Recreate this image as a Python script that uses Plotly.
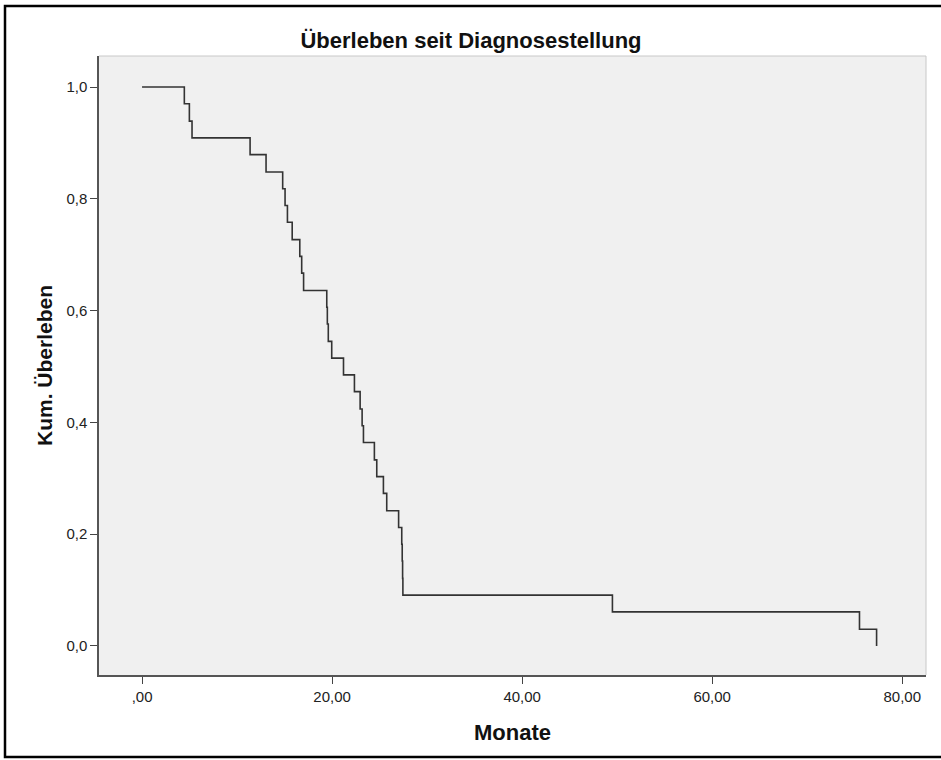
import plotly.graph_objects as go

# Kaplan-Meier survival: event times (months) and cumulative survival after each step
times = [0.0, 4.45, 4.98, 5.26, 11.37, 13.05, 14.8, 15.05, 15.3, 15.8, 16.6, 16.8, 17.0,
         19.44, 19.5, 19.6, 19.96, 21.2, 22.35, 22.95, 23.16, 23.3, 24.45, 24.7, 25.4,
         25.75, 27.0, 27.33, 27.38, 27.42, 27.45, 49.5, 75.5, 77.3]
survival = [1.000, 0.970, 0.939, 0.909, 0.879, 0.848, 0.818, 0.788, 0.758, 0.727, 0.697,
            0.667, 0.636, 0.606, 0.576, 0.545, 0.515, 0.485, 0.455, 0.424, 0.394, 0.364,
            0.333, 0.303, 0.273, 0.242, 0.212, 0.182, 0.152, 0.121, 0.091, 0.061, 0.030,
            0.000]

x_tickvals = [0, 20, 40, 60, 80]
x_ticktext = [",00", "20,00", "40,00", "60,00", "80,00"]
y_tickvals = [0.0, 0.2, 0.4, 0.6, 0.8, 1.0]
y_ticktext = ["0,0", "0,2", "0,4", "0,6", "0,8", "1,0"]

FONT = "Liberation Sans, Arial, sans-serif"

fig = go.Figure()
fig.add_trace(go.Scatter(
    x=times, y=survival, mode="lines", line_shape="hv",
    line=dict(color="#333333", width=1.6), showlegend=False, hoverinfo="x+y"))

W, H = 941, 760
L, R, T, B = 99, 15, 56, 85
pw, ph = W - L - R, H - T - B

def px2paper_x(px):
    return (px - L) / pw

def px2paper_y(py):
    return (H - B - py) / ph

fig.update_layout(
    width=W, height=H,
    margin=dict(l=L, r=R, t=T, b=B),
    paper_bgcolor="white", plot_bgcolor="#f0f0f0",
    font=dict(family=FONT, color="#1a1a1a", size=14),
    title=dict(text="<b>Überleben seit Diagnosestellung</b>", x=471 / W, xanchor="center",
               y=1 - 40 / H, yanchor="middle", font=dict(size=22, family=FONT, color="#111111")),
    xaxis=dict(range=[-4.53, 82.5], tickvals=x_tickvals, ticktext=x_ticktext,
               ticks="outside", ticklen=7, tickcolor="#444444", showgrid=False, zeroline=False,
               showline=True, linecolor="#555555", linewidth=1.5, mirror=False,
               tickfont=dict(size=15, family=FONT, color="#222222"),
               title=dict(text="<b>Monate</b>", font=dict(size=22, family=FONT, color="#111111"),
                          standoff=21)),
    yaxis=dict(range=[-0.0519, 1.0555], tickvals=y_tickvals, ticktext=y_ticktext,
               ticks="outside", ticklen=7, tickcolor="#444444", showgrid=False, zeroline=False,
               showline=True, linecolor="#555555", linewidth=1.5, mirror=False,
               tickfont=dict(size=15, family=FONT, color="#222222"),
               title=dict(text="<b>Kum. Überleben</b>", font=dict(size=21, family=FONT, color="#111111"),
                          standoff=8)),
)

# light frame on top/right of plot area
fig.add_shape(type="line", xref="paper", yref="paper", x0=0, x1=1, y0=1, y1=1,
              line=dict(color="#c8c8c8", width=1))
fig.add_shape(type="line", xref="paper", yref="paper", x0=1, x1=1, y0=0, y1=1,
              line=dict(color="#c8c8c8", width=1))

# outer black border of the chart image
fig.add_shape(type="rect", xref="paper", yref="paper",
              x0=px2paper_x(5), x1=px2paper_x(948), y0=px2paper_y(757), y1=px2paper_y(6),
              line=dict(color="black", width=2.5), fillcolor="rgba(0,0,0,0)", layer="above")

fig.write_html("out.html")
